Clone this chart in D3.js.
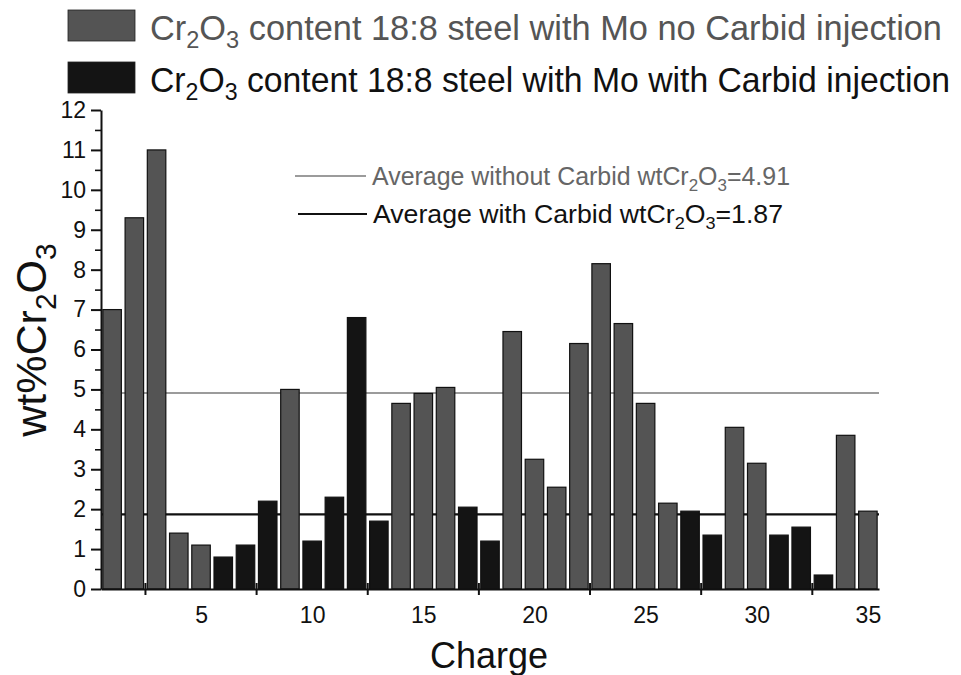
<!DOCTYPE html>
<html>
<head>
<meta charset="utf-8">
<script src="https://cdn.jsdelivr.net/npm/d3@7"></script>
<style>
  body { margin: 0; background: #fff; }
  svg { font-family: "Liberation Sans", Arial, sans-serif; }
</style>
</head>
<body>
<svg width="961" height="675"></svg>
<script>
const w = 961;
const h = 675;

const charges = [1,2,3,4,5,6,7,8,9,10,11,12,13,14,15,16,17,18,19,20,21,22,23,24,25,26,27,28,29,30,31,32,33,34,35];
const values = [7.0,9.3,11.0,1.4,1.1,0.8,1.1,2.2,5.0,1.2,2.3,6.8,1.7,4.65,4.9,5.05,2.05,1.2,6.45,3.25,2.55,6.15,8.15,6.65,4.65,2.15,1.95,1.35,4.05,3.15,1.35,1.55,0.35,3.85,1.95];
// "no" = no Carbid injection, "with" = with Carbid injection
const groups = ["no","no","no","no","no","with","with","with","no","with","with","with","with","no","no","no","with","with","no","no","no","no","no","no","no","no","with","with","no","no","with","with","with","no","no"];
const averages = [
  { key: "no", value: 4.91, label: "Average without Carbid wtCr", end: "=4.91" },
  { key: "with", value: 1.87, label: "Average with Carbid wtCr", end: "=1.87" }
];
const xTickLabels = [5, 10, 15, 20, 25, 30, 35];
const xTickMarks = [2.5, 7.5, 12.5, 17.5, 22.5, 27.5, 32.5];
const yTicks = [0,1,2,3,4,5,6,7,8,9,10,11,12];

const svg = d3.select("svg");

const x = d3.scaleLinear().domain([0.5, 35.5]).range([101, 879]);
const y = d3.scaleLinear().domain([0, 12]).range([589, 110]);

const fill = { no: "#545454", with: "#141414" };
const lineCol = { no: "#7a7a7a", with: "#111" };

// average lines (behind bars)
svg.selectAll(".avg")
  .data(averages)
  .enter().append("line")
  .attr("x1", x(0.5)).attr("x2", x(35.5))
  .attr("y1", d => y(d.value)).attr("y2", d => y(d.value))
  .attr("stroke", d => lineCol[d.key])
  .attr("stroke-width", d => d.key === "no" ? 1.6 : 2.2);

// bars
const bw = 18.5;
svg.selectAll(".bar")
  .data(values)
  .enter().append("rect")
  .attr("x", (d, i) => x(charges[i]) - bw / 2)
  .attr("y", d => y(d))
  .attr("width", bw)
  .attr("height", d => y(0) - y(d))
  .attr("fill", (d, i) => fill[groups[i]])
  .attr("stroke", "#111")
  .attr("stroke-width", 1.2);

// y axis
const yAxis = d3.axisLeft(y).tickValues(yTicks).tickSize(10).tickSizeOuter(0).tickPadding(5);
const gy = svg.append("g").attr("transform", "translate(101,0)").call(yAxis);
gy.select(".domain").attr("stroke", "#111").attr("stroke-width", 2);
gy.selectAll(".tick line").attr("stroke", "#111").attr("stroke-width", 2);
gy.selectAll(".tick text").attr("font-size", 23).attr("fill", "#111")
  .attr("font-family", "Liberation Sans, Arial, sans-serif");

const yMinor = d3.axisLeft(y).tickValues(d3.range(0.5, 12, 1)).tickSize(6).tickFormat("");
const gym = svg.append("g").attr("transform", "translate(101,0)").call(yMinor);
gym.select(".domain").remove();
gym.selectAll(".tick line").attr("stroke", "#111").attr("stroke-width", 1.6);

// x axis
const xAxis = d3.axisBottom(x).tickValues(xTickLabels).tickSize(0).tickPadding(18).tickSizeOuter(0);
const gx = svg.append("g").attr("transform", `translate(0,${y(0)})`).call(xAxis);
gx.select(".domain").attr("stroke", "#111").attr("stroke-width", 2.2);
gx.selectAll(".tick text").attr("font-size", 23).attr("fill", "#111")
  .attr("font-family", "Liberation Sans, Arial, sans-serif");

svg.selectAll(".xmark")
  .data(xTickMarks)
  .enter().append("line")
  .attr("x1", d => x(d)).attr("x2", d => x(d))
  .attr("y1", y(0) - 6).attr("y2", y(0) + 6)
  .attr("stroke", "#111").attr("stroke-width", 2);

// axis titles
svg.append("text")
  .attr("x", 489).attr("y", 668)
  .attr("text-anchor", "middle")
  .attr("font-size", 36)
  .attr("fill", "#111")
  .text("Charge");

const yt = svg.append("text")
  .attr("transform", "translate(46,340) rotate(-90)")
  .attr("text-anchor", "middle")
  .attr("font-size", 43)
  .attr("fill", "#111");
yt.append("tspan").text("wt%Cr");
yt.append("tspan").attr("font-size", 30).attr("dy", 10).text("2");
yt.append("tspan").attr("dy", -10).text("O");
yt.append("tspan").attr("font-size", 30).attr("dy", 10).text("3");

// top legend
const legendItems = [
  { key: "no", text: " content 18:8 steel with Mo no Carbid injection", color: "#555", y: 40, len: 792 },
  { key: "with", text: " content 18:8 steel with Mo with Carbid injection", color: "#111", y: 92, len: 800 }
];
legendItems.forEach(d => {
  svg.append("rect")
    .attr("x", 68).attr("y", d.y - 30).attr("width", 67).attr("height", 31)
    .attr("fill", fill[d.key]).attr("stroke", "#222").attr("stroke-width", 0.8);
  const t = svg.append("text")
    .attr("x", 150).attr("y", d.y)
    .attr("font-size", 35)
    .attr("fill", d.color)
    .attr("textLength", d.len)
    .attr("lengthAdjust", "spacingAndGlyphs");
  t.append("tspan").text("Cr");
  t.append("tspan").attr("font-size", 24).attr("dy", 8).text("2");
  t.append("tspan").attr("dy", -8).text("O");
  t.append("tspan").attr("font-size", 24).attr("dy", 8).text("3");
  t.append("tspan").attr("dy", -8).text(d.text);
});

// average legend
const avgPos = [
  { x1: 295, x2: 366, ly: 176, tx: 372, ty: 185, color: "#666", len: 418 },
  { x1: 298, x2: 367, ly: 214, tx: 373, ty: 223, color: "#111", len: 410 }
];
averages.forEach((d, i) => {
  const p = avgPos[i];
  svg.append("line")
    .attr("x1", p.x1).attr("x2", p.x2).attr("y1", p.ly).attr("y2", p.ly)
    .attr("stroke", lineCol[d.key]).attr("stroke-width", d.key === "no" ? 1.6 : 2.2);
  const t = svg.append("text")
    .attr("x", p.tx).attr("y", p.ty)
    .attr("font-size", 25)
    .attr("fill", p.color)
    .attr("textLength", p.len)
    .attr("lengthAdjust", "spacingAndGlyphs");
  t.append("tspan").text(d.label);
  t.append("tspan").attr("font-size", 17).attr("dy", 6).text("2");
  t.append("tspan").attr("dy", -6).text("O");
  t.append("tspan").attr("font-size", 17).attr("dy", 6).text("3");
  t.append("tspan").attr("dy", -6).text(d.end);
});
</script>
</body>
</html>
